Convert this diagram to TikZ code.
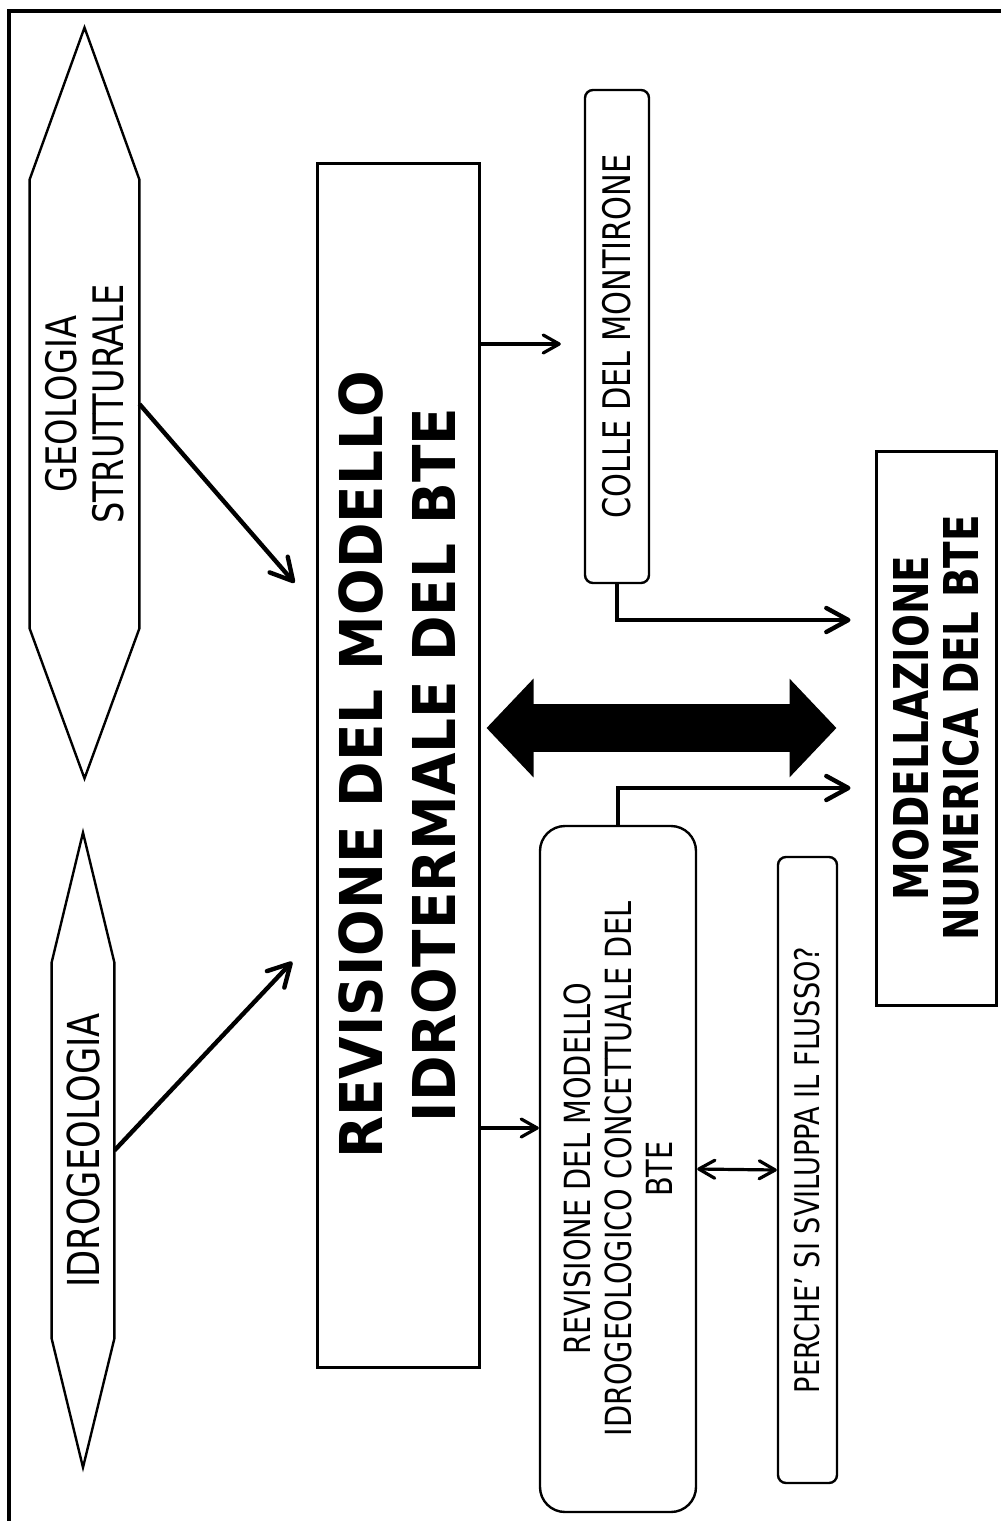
\documentclass[tikz,border=0pt]{standalone}
\usepackage{fontspec}
\usetikzlibrary{arrows.meta,calc}
\newfontfamily\boxfont{DejaVu Sans}[FakeStretch=0.8]
\newfontfamily\titlefont{DejaVu Sans}[FakeStretch=0.93]
\newfontfamily\numfont{DejaVu Sans}[FakeStretch=0.81]
\tikzset{
  tbox/.style={rectangle,draw,line width=1.5pt,rotate=90,align=center,inner sep=0pt},
  rbox/.style={rectangle,draw,rounded corners=4pt,line width=1.2pt,rotate=90,align=center,inner sep=0pt},
  hnode/.style={rotate=90,align=center,inner sep=0pt},
  hexa/.style={draw,line width=1.2pt,line join=miter},
  frame/.style={line width=2pt},
  de/.style={-{Straight Barb[length=11pt,width=12pt,round]},line width=2.2pt},
  te/.style={-{Straight Barb[length=8pt,width=9pt,round]},line width=1.6pt},
  dte/.style={{Straight Barb[length=8pt,width=9pt,round]}-{Straight Barb[length=8pt,width=9pt,round]},line width=1.6pt},
  be/.style={{Triangle[length=23.5pt,width=48pt]}-{Triangle[length=23.5pt,width=48pt]},line width=24pt}
}

\begin{document}
\begin{tikzpicture}[x=0.5pt,y=-0.5pt]
\useasboundingbox (0,0) rectangle (1001,1521);
\draw[frame] (9,1521) -- (9,11) -- (1001,11);

% input fields
\node[hnode,minimum width=224pt,minimum height=54.5pt,font=\boxfont\fontsize{21}{23.5}\selectfont] (geo) at (84.5,404) {GEOLOGIA\\STRUTTURALE};
\draw[hexa] (geo.north east) -- ($(geo.east)+(0,-152)$) -- (geo.south east) -- (geo.south west) -- ($(geo.west)+(0,150)$) -- (geo.north west) -- cycle;
\node[hnode,minimum width=187.5pt,minimum height=31pt,font=\boxfont\fontsize{22}{24}\selectfont] (idro) at (83,1150.5) {IDROGEOLOGIA};
\draw[hexa] (idro.north east) -- ($(idro.east)+(0,-130)$) -- (idro.south east) -- (idro.south west) -- ($(idro.west)+(0,129)$) -- (idro.north west) -- cycle;

% boxes
\node[tbox,minimum width=602pt,minimum height=81pt,font=\titlefont\bfseries\fontsize{29.5}{36.5}\selectfont] (main) at (398,765) {REVISIONE DEL MODELLO\\IDROTERMALE DEL BTE};
\node[rbox,minimum width=246.5pt,minimum height=32pt,font=\boxfont\fontsize{19}{22}\selectfont] (colle) at (617,336.5) {COLLE DEL MONTIRONE};
\node[tbox,minimum width=277pt,minimum height=60pt,font=\numfont\bfseries\fontsize{24}{25}\selectfont] (num) at (936,728) {MODELLAZIONE\\NUMERICA DEL BTE};
\node[rbox,rounded corners=12.5pt,minimum width=343pt,minimum height=78pt,font=\boxfont\fontsize{18}{20.5}\selectfont] (concept) at (618,1169) {REVISIONE DEL MODELLO\\IDROGEOLOGICO CONCETTUALE DEL\\BTE};
\node[rbox,minimum width=313pt,minimum height=29.5pt,font=\boxfont\fontsize{17}{20}\selectfont] (perche) at (807.5,1170) {PERCHE’ SI SVILUPPA IL FLUSSO?};

% connectors
\draw[de,shorten >=16pt] (geo.south) -- (main.north |- 0,607);
\draw[de,shorten >=17pt] (idro.south) -- (main.north |- 0,937);
\draw[te,shorten >=11.5pt] (main.south |- 0,344) -- (colle.north |- 0,344);
\draw[te] (main.south |- 0,1128) -- (concept.north |- 0,1128);
\draw[de,shorten >=12pt] (colle.west) |- (num.north |- 0,620);
\draw[de,shorten >=12pt] (concept.east) |- (num.north |- 0,788);
\draw[be,shorten <=3pt,shorten >=19pt] (main.south |- num) -- (num.north);
\draw[dte] (concept.south) -- (perche.north);
\end{tikzpicture}
\end{document}
